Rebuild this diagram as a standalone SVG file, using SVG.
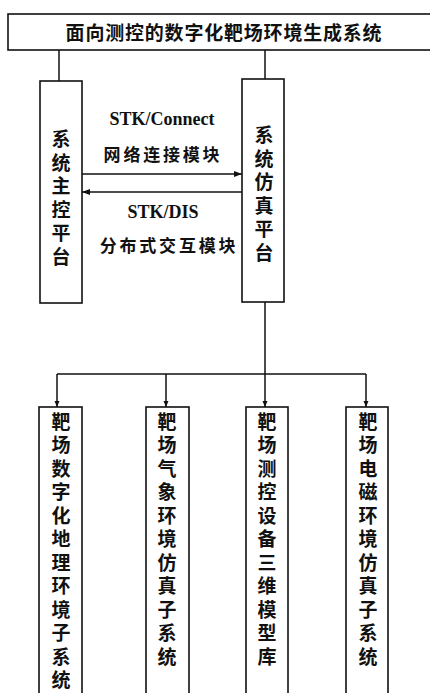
<svg xmlns="http://www.w3.org/2000/svg" width="430" height="693" viewBox="0 0 430 693">
<style>
.box{fill:#fff;stroke:#111;stroke-width:1.6}
.ln{fill:none;stroke:#111;stroke-width:1.5}
.cjk{font-family:"Noto Sans CJK SC","Noto Sans",sans-serif;font-weight:bold;fill:#111}
.v{font-size:19px;writing-mode:vertical-rl;letter-spacing:4.5px}
.lat{font-family:"Liberation Serif",serif;font-weight:bold;font-size:18px;fill:#111;text-anchor:middle}
</style>
<defs>
<marker id="ah" markerWidth="8" markerHeight="6" refX="8" refY="3" orient="auto" markerUnits="userSpaceOnUse">
<path d="M0,0 L8,3 L0,6 Z" fill="#111"/>
</marker>
<marker id="ahs" markerWidth="6" markerHeight="6" refX="6" refY="3" orient="auto" markerUnits="userSpaceOnUse">
<path d="M0,0.5 L6,3 L0,5.5 Z" fill="#111"/>
</marker>
</defs>
<rect width="430" height="693" fill="#fff"/>
<g id="connectors">
<path class="ln" d="M59,50 V81"/>
<path class="ln" d="M265,50 V79"/>
<path class="ln" d="M82,174 H242" marker-end="url(#ah)"/>
<path class="ln" d="M242,192 H82" marker-end="url(#ah)"/>
<path class="ln" d="M265,302 V407" marker-end="url(#ahs)"/>
<path class="ln" d="M57,374 H366"/>
<path class="ln" d="M57,374 V407" marker-end="url(#ahs)"/>
<path class="ln" d="M166,374 V407" marker-end="url(#ahs)"/>
<path class="ln" d="M366,374 V407" marker-end="url(#ahs)"/>
<text class="lat" x="162" y="125">STK/Connect</text>
<text class="cjk" x="163" y="161" font-size="17" letter-spacing="2.8" text-anchor="middle">网络连接模块</text>
<text class="lat" x="163" y="218">STK/DIS</text>
<text class="cjk" x="169" y="252" font-size="17" letter-spacing="2.8" text-anchor="middle">分布式交互模块</text>
</g>
<g id="title">
<rect class="box" x="8" y="14" width="440" height="36"/>
<text class="cjk" x="224" y="39.5" font-size="19" letter-spacing="0.8" text-anchor="middle">面向测控的数字化靶场环境生成系统</text>
</g>
<g id="master">
<rect class="box" x="40" y="81" width="42" height="222"/>
<text class="cjk v" x="61" y="129.5">系统主控平台</text>
</g>
<g id="sim">
<rect class="box" x="242" y="79" width="42" height="223"/>
<text class="cjk v" x="264" y="125.5">系统仿真平台</text>
</g>
<g id="sub1">
<rect class="box" x="39" y="407" width="43" height="300"/>
<text class="cjk v" x="61" y="412">靶场数字化地理环境子系统</text>
</g>
<g id="sub2">
<rect class="box" x="146" y="407" width="43" height="300"/>
<text class="cjk v" x="167" y="412">靶场气象环境仿真子系统</text>
</g>
<g id="sub3">
<rect class="box" x="246" y="407" width="42" height="300"/>
<text class="cjk v" x="267" y="412">靶场测控设备三维模型库</text>
</g>
<g id="sub4">
<rect class="box" x="346" y="407" width="42" height="300"/>
<text class="cjk v" x="368" y="412">靶场电磁环境仿真子系统</text>
</g>
</svg>
